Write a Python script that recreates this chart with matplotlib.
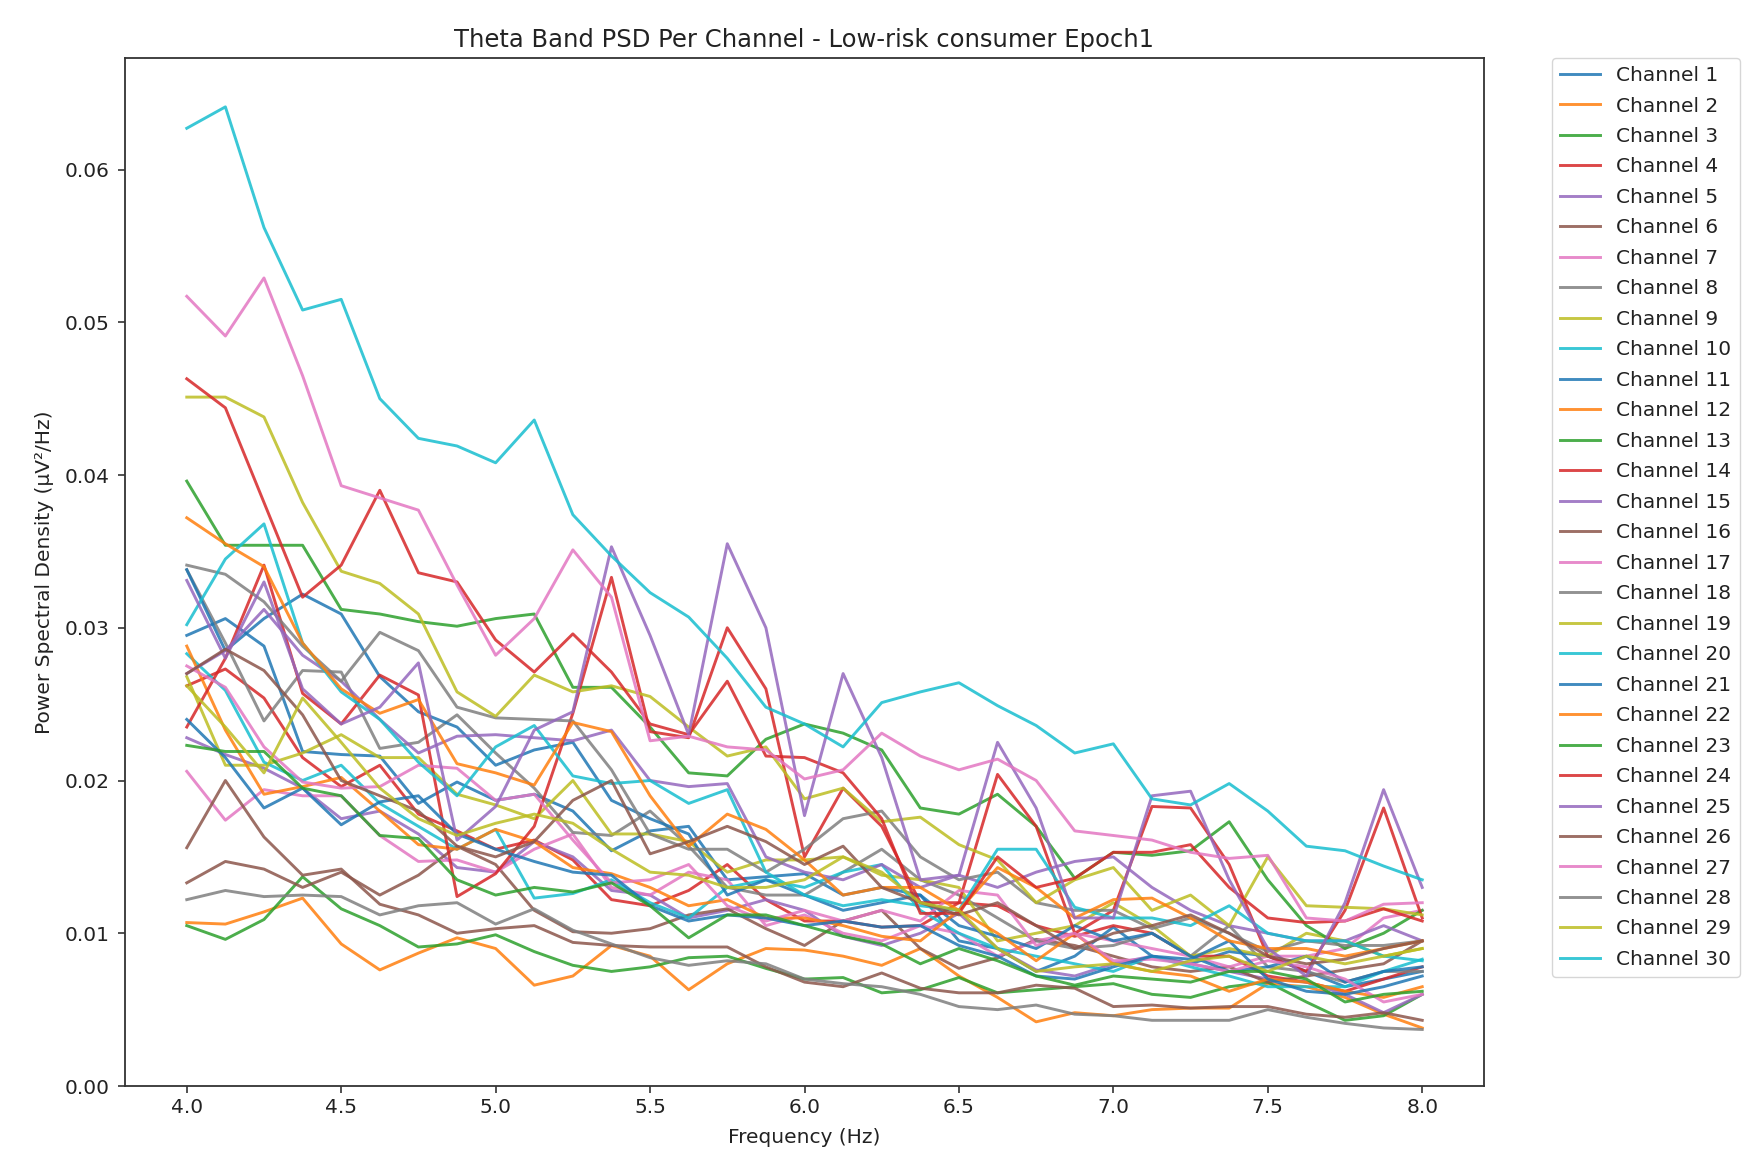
import numpy as np
import matplotlib
matplotlib.use("Agg")
import matplotlib.pyplot as plt

freqs = [4 + 0.125 * i for i in range(33)]

ch1 = [.0295,.0306,.0288,.0219,.0217,.0216,.0185,.0199,.0187,.0191,.0180,.0154,.0167,.0170,.0135,.0137,.0139,.0125,.0130,.0125,.0095,.0090,.0075,.0085,.0104,.0085,.0080,.0088,.0085,.0075,.0065,.0070,.0075]
ch2 = [.0107,.0106,.0114,.0123,.0093,.0076,.0087,.0097,.0090,.0066,.0072,.0092,.0085,.0063,.0080,.0090,.0089,.0085,.0079,.0090,.0072,.0058,.0042,.0048,.0046,.0050,.0051,.0051,.0067,.0065,.0058,.0047,.0038]
ch3 = [.0105,.0096,.0109,.0137,.0116,.0105,.0091,.0093,.0099,.0088,.0079,.0075,.0078,.0084,.0085,.0077,.0070,.0071,.0061,.0063,.0071,.0061,.0063,.0065,.0067,.0060,.0058,.0065,.0068,.0055,.0043,.0046,.0060]
ch4 = [.0262,.0273,.0254,.0215,.0196,.0210,.0178,.0167,.0155,.0161,.0148,.0122,.0118,.0128,.0145,.0122,.0108,.0108,.0104,.0105,.0120,.0118,.0105,.0098,.0105,.0100,.0085,.0085,.0072,.0068,.0062,.0070,.0078]
ch5 = [.0228,.0217,.0208,.0195,.0175,.0180,.0165,.0143,.0140,.0160,.0150,.0128,.0125,.0110,.0115,.0122,.0115,.0098,.0092,.0100,.0113,.0090,.0076,.0072,.0080,.0085,.0080,.0075,.0070,.0068,.0060,.0048,.0060]
ch6 = [.0133,.0147,.0142,.0130,.0140,.0125,.0138,.0157,.0145,.0115,.0101,.0100,.0103,.0112,.0116,.0103,.0092,.0108,.0115,.0090,.0077,.0084,.0096,.0092,.0085,.0078,.0075,.0078,.0068,.0072,.0076,.0080,.0095]
ch7 = [.0206,.0174,.0194,.0190,.0190,.0164,.0147,.0148,.0140,.0155,.0165,.0130,.0125,.0140,.0135,.0105,.0112,.0100,.0095,.0105,.0100,.0085,.0095,.0100,.0095,.0090,.0085,.0078,.0085,.0085,.0090,.0110,.0115]
ch8 = [.0338,.0290,.0239,.0272,.0271,.0221,.0225,.0243,.0218,.0195,.0166,.0164,.0180,.0157,.0130,.0125,.0125,.0140,.0155,.0135,.0125,.0110,.0095,.0090,.0092,.0100,.0085,.0105,.0078,.0075,.0068,.0075,.0075]
ch9 = [.0268,.0210,.0210,.0218,.0230,.0215,.0215,.0191,.0184,.0175,.0200,.0165,.0165,.0160,.0140,.0148,.0148,.0150,.0138,.0135,.0130,.0095,.0100,.0105,.0120,.0105,.0085,.0090,.0085,.0100,.0095,.0085,.0090]
ch10 = [.0283,.0259,.0212,.0200,.0210,.0185,.0170,.0155,.0168,.0123,.0126,.0135,.0120,.0110,.0130,.0135,.0130,.0140,.0145,.0115,.0100,.0090,.0085,.0080,.0075,.0085,.0078,.0072,.0065,.0065,.0065,.0075,.0083]
ch11 = [.0338,.0285,.0306,.0322,.0309,.0268,.0245,.0235,.0210,.0220,.0225,.0187,.0175,.0165,.0125,.0135,.0125,.0115,.0120,.0125,.0105,.0098,.0090,.0105,.0095,.0100,.0085,.0075,.0078,.0085,.0068,.0075,.0078]
ch12 = [.0288,.0233,.0191,.0196,.0202,.0180,.0158,.0155,.0168,.0160,.0143,.0139,.0130,.0118,.0122,.0110,.0110,.0105,.0098,.0095,.0115,.0100,.0082,.0100,.0080,.0075,.0072,.0062,.0070,.0068,.0062,.0058,.0065]
ch13 = [.0396,.0354,.0354,.0354,.0312,.0309,.0304,.0301,.0306,.0309,.0261,.0261,.0235,.0205,.0203,.0227,.0237,.0231,.0220,.0182,.0178,.0191,.0170,.0136,.0153,.0151,.0154,.0173,.0135,.0105,.0090,.0100,.0115]
ch14 = [.0235,.0280,.0341,.0257,.0237,.0269,.0256,.0124,.0139,.0170,.0244,.0333,.0232,.0228,.0300,.0260,.0150,.0195,.0170,.0120,.0120,.0204,.0170,.0100,.0115,.0183,.0182,.0145,.0085,.0075,.0115,.0182,.0110]
ch15 = [.0270,.0285,.0312,.0282,.0265,.0240,.0218,.0229,.0230,.0228,.0226,.0233,.0200,.0196,.0198,.0150,.0140,.0135,.0145,.0130,.0138,.0130,.0140,.0147,.0150,.0130,.0115,.0105,.0100,.0095,.0095,.0105,.0095]
ch16 = [.0156,.0200,.0163,.0138,.0142,.0119,.0112,.0100,.0103,.0105,.0094,.0092,.0091,.0091,.0091,.0078,.0068,.0065,.0074,.0064,.0061,.0061,.0066,.0064,.0052,.0053,.0051,.0052,.0052,.0047,.0045,.0048,.0043]
ch17 = [.0275,.0261,.0222,.0199,.0195,.0196,.0210,.0208,.0187,.0191,.0161,.0133,.0135,.0145,.0118,.0108,.0115,.0108,.0115,.0108,.0128,.0125,.0092,.0100,.0082,.0083,.0080,.0075,.0082,.0078,.0070,.0055,.0060]
ch18 = [.0341,.0335,.0317,.0288,.0265,.0297,.0285,.0248,.0241,.0240,.0239,.0207,.0165,.0155,.0155,.0140,.0155,.0175,.0180,.0150,.0135,.0140,.0120,.0115,.0115,.0103,.0110,.0100,.0088,.0095,.0092,.0092,.0095]
ch19 = [.0451,.0451,.0438,.0382,.0337,.0329,.0309,.0258,.0242,.0269,.0258,.0262,.0255,.0235,.0216,.0222,.0188,.0195,.0173,.0176,.0158,.0148,.0120,.0135,.0143,.0115,.0125,.0105,.0150,.0118,.0117,.0116,.0112]
ch20 = [.0302,.0345,.0368,.0290,.0258,.0240,.0212,.0190,.0222,.0236,.0203,.0198,.0200,.0185,.0194,.0140,.0125,.0118,.0122,.0118,.0115,.0155,.0155,.0117,.0110,.0110,.0105,.0118,.0100,.0095,.0095,.0085,.0082]
ch21 = [.0240,.0215,.0182,.0195,.0171,.0186,.0190,.0165,.0155,.0147,.0140,.0138,.0118,.0108,.0112,.0110,.0105,.0108,.0104,.0105,.0092,.0085,.0072,.0070,.0078,.0085,.0083,.0095,.0070,.0062,.0060,.0065,.0072]
ch22 = [.0372,.0355,.0340,.0290,.0260,.0244,.0253,.0211,.0205,.0197,.0238,.0232,.0190,.0157,.0178,.0168,.0148,.0125,.0130,.0130,.0115,.0143,.0130,.0110,.0122,.0123,.0110,.0095,.0090,.0090,.0085,.0090,.0095]
ch23 = [.0223,.0219,.0219,.0195,.0190,.0164,.0162,.0135,.0125,.0130,.0127,.0133,.0118,.0097,.0112,.0112,.0105,.0098,.0093,.0080,.0090,.0082,.0072,.0066,.0072,.0070,.0068,.0075,.0075,.0070,.0055,.0060,.0062]
ch24 = [.0463,.0444,.0382,.0320,.0341,.0390,.0336,.0330,.0292,.0271,.0296,.0271,.0237,.0230,.0265,.0216,.0215,.0205,.0175,.0113,.0113,.0150,.0130,.0136,.0153,.0153,.0158,.0130,.0110,.0107,.0108,.0116,.0108]
ch25 = [.0331,.0280,.0330,.0260,.0237,.0248,.0277,.0161,.0183,.0233,.0245,.0353,.0295,.0230,.0355,.0300,.0177,.0270,.0215,.0135,.0138,.0225,.0182,.0110,.0110,.0190,.0193,.0135,.0090,.0072,.0120,.0194,.0130]
ch26 = [.0270,.0286,.0272,.0243,.0200,.0190,.0180,.0157,.0150,.0160,.0187,.0200,.0152,.0160,.0170,.0160,.0145,.0157,.0130,.0120,.0112,.0120,.0105,.0090,.0100,.0105,.0112,.0100,.0085,.0080,.0083,.0090,.0095]
ch27 = [.0517,.0491,.0529,.0465,.0393,.0385,.0377,.0328,.0282,.0306,.0351,.0320,.0226,.0229,.0222,.0220,.0201,.0207,.0231,.0216,.0207,.0214,.0200,.0167,.0164,.0161,.0153,.0149,.0151,.0110,.0108,.0119,.0120]
ch28 = [.0122,.0128,.0124,.0125,.0124,.0112,.0118,.0120,.0106,.0116,.0102,.0093,.0084,.0079,.0082,.0080,.0070,.0067,.0065,.0060,.0052,.0050,.0053,.0047,.0046,.0043,.0043,.0043,.0050,.0045,.0041,.0038,.0037]
ch29 = [.0262,.0235,.0205,.0254,.0225,.0195,.0175,.0164,.0172,.0178,.0172,.0155,.0140,.0138,.0130,.0130,.0135,.0150,.0140,.0120,.0115,.0090,.0075,.0078,.0080,.0075,.0082,.0085,.0075,.0085,.0080,.0085,.0090]
ch30 = [.0627,.0641,.0562,.0508,.0515,.0450,.0424,.0419,.0408,.0436,.0374,.0347,.0323,.0307,.0280,.0248,.0237,.0222,.0251,.0258,.0264,.0249,.0236,.0218,.0224,.0188,.0184,.0198,.0180,.0157,.0154,.0144,.0135]

channels = [ch1, ch2, ch3, ch4, ch5, ch6, ch7, ch8, ch9, ch10,
            ch11, ch12, ch13, ch14, ch15, ch16, ch17, ch18, ch19, ch20,
            ch21, ch22, ch23, ch24, ch25, ch26, ch27, ch28, ch29, ch30]
labels = [f"Channel {i + 1}" for i in range(len(channels))]

W, H = 1765, 1174
fig = plt.figure(figsize=(W / 100, H / 100), dpi=100)
ax = fig.add_axes([125 / W, 1 - 1086 / H, (1484 - 125) / W, (1086 - 58) / H])

for values, label in zip(channels, labels):
    ax.plot(freqs, values, label=label, lw=2.1, alpha=0.85)

ax.set_ylim(0, 0.0673)
ax.set_yticks([0, .01, .02, .03, .04, .05, .06])
ax.set_yticklabels(["0.00", "0.01", "0.02", "0.03", "0.04", "0.05", "0.06"])
ax.tick_params(labelsize=14.5, length=5, width=1.1, colors="#222222")
ax.tick_params(axis="y", pad=6)
for s in ax.spines.values():
    s.set_linewidth(1.3)
    s.set_color("#333333")
ax.set_title("Theta Band PSD Per Channel - Low-risk consumer Epoch1", fontsize=17.5, color="#222222", pad=8)
ax.set_xlabel("Frequency (Hz)", fontsize=14.5, color="#222222", labelpad=8)
ax.set_ylabel("Power Spectral Density (µV²/Hz)", fontsize=14.5, color="#222222", labelpad=8)
ax.legend(bbox_to_anchor=(1.05, 1), loc="upper left", borderaxespad=0, fontsize=14.5,
          labelspacing=0.57, labelcolor="#222222")
fig.savefig("out.png", dpi=100)
